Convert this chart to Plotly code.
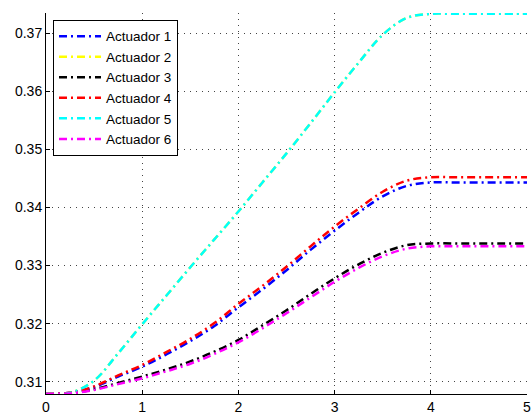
import plotly.graph_objects as go

x = [0, 0.25, 0.5, 0.75, 1.0, 1.25, 1.5, 1.75, 2.0, 2.25, 2.5, 2.75, 3.0,
     3.25, 3.5, 3.75, 4.0, 4.25, 4.5, 4.75, 5.0]

act1 = [0.3079, 0.3081, 0.3091, 0.3109, 0.3126, 0.3147, 0.3170, 0.3196, 0.3228,
        0.3259, 0.3292, 0.3327, 0.3360, 0.3391, 0.3419, 0.3437, 0.3443,
        0.3443, 0.3443, 0.3443, 0.3443]
act2 = [0.3079, 0.3081, 0.3102, 0.3149, 0.3199, 0.3248, 0.3297, 0.3345, 0.3393,
        0.3443, 0.3493, 0.3545, 0.3598, 0.3649, 0.3697, 0.3726, 0.3733,
        0.3733, 0.3733, 0.3733, 0.3733]
act3 = [0.3079, 0.3080, 0.3087, 0.3098, 0.3109, 0.3121, 0.3135, 0.3152, 0.3172,
        0.3197, 0.3223, 0.3251, 0.3278, 0.3302, 0.3322, 0.3335, 0.3338,
        0.3338, 0.3338, 0.3338, 0.3338]
act4 = [0.3079, 0.3081, 0.3092, 0.3111, 0.3129, 0.3151, 0.3174, 0.3201, 0.3234,
        0.3265, 0.3298, 0.3333, 0.3367, 0.3398, 0.3427, 0.3446, 0.3452,
        0.3452, 0.3452, 0.3452, 0.3452]
act5 = list(act2)
act6 = [0.3079, 0.3080, 0.3086, 0.3096, 0.3106, 0.3118, 0.3131, 0.3148, 0.3168,
        0.3192, 0.3218, 0.3245, 0.3272, 0.3296, 0.3316, 0.3329, 0.3333,
        0.3333, 0.3333, 0.3333, 0.3333]

names = ["Actuador 1", "Actuador 2", "Actuador 3", "Actuador 4", "Actuador 5", "Actuador 6"]
series = [act1, act2, act3, act4, act5, act6]
colors = ["#0000ff", "#ffff00", "#000000", "#ff0000", "#00ffff", "#ff00ff"]

xticks = [0, 1, 2, 3, 4, 5]
yticks = [0.31, 0.32, 0.33, 0.34, 0.35, 0.36, 0.37]

fig = go.Figure()
for n, s, c in zip(names, series, colors):
    fig.add_trace(go.Scatter(
        x=x, y=s, name=n, mode="lines",
        line=dict(color=c, width=2.5, dash="8px,4px,2px,4px", shape="spline"),
    ))

axis_common = dict(
    showline=True, linecolor="black", linewidth=1, mirror=False,
    ticks="inside", ticklen=4, tickcolor="black",
    showgrid=True, gridcolor="#444444", gridwidth=1, griddash="1px,5px",
    zeroline=False, automargin=False, ticklabeloverflow="allow",
    tickfont=dict(family="Liberation Sans, Arial, sans-serif", size=14, color="black"),
)

fig.update_xaxes(range=[0, 5], tickvals=xticks, ticktext=[str(v) for v in xticks], **axis_common)
fig.update_yaxes(range=[0.3079, 0.37345], tickvals=yticks,
                 ticktext=["%.2f" % v for v in yticks], **axis_common)

fig.update_layout(
    width=531, height=416,
    margin=dict(l=46, r=4, t=13, b=22),
    paper_bgcolor="white", plot_bgcolor="white",
    font=dict(family="Liberation Sans, Arial, sans-serif", size=13.5, color="black"),
    legend=dict(
        x=0.0146, y=0.982, xanchor="left", yanchor="top",
        bgcolor="white", bordercolor="black", borderwidth=1,
        font=dict(size=13.5), itemwidth=42, tracegroupgap=0,
    ),
    showlegend=True,
)

# remove the default page margin so the figure fills the window exactly
fig.write_html(
    "out.html",
    config={"displayModeBar": False},
    post_script="document.body.style.margin='0';document.body.style.overflow='hidden';",
)
